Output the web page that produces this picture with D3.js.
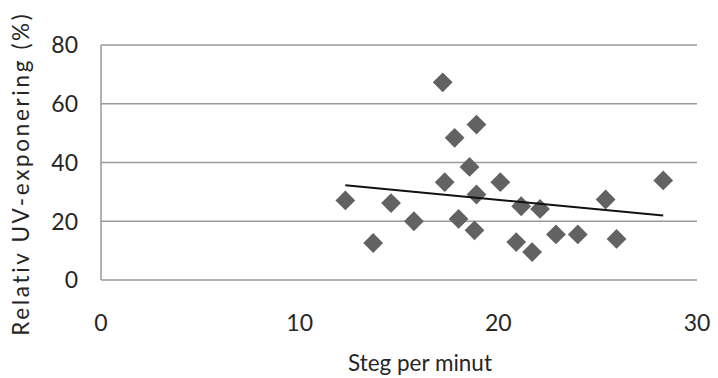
<!DOCTYPE html>
<html>
<head>
<meta charset="utf-8">
<script src="https://cdn.jsdelivr.net/npm/d3@7"></script>
<style>
  body { margin: 0; background: #fff; }
  text { font-family: Lato, "Open Sans", sans-serif; fill: #262626; }
</style>
</head>
<body>
<div id="chart"></div>
<script>
var stepsPerMin = [12.3, 13.7, 14.6, 15.75, 17.2, 17.3, 17.8, 18.0, 18.55, 18.9, 18.9, 18.8, 20.1, 20.9, 21.15, 21.7, 22.1, 22.9, 24.0, 25.4, 25.95, 28.3];
var uvExposure = [27.1, 12.6, 26.2, 20.0, 67.3, 33.3, 48.4, 20.8, 38.5, 52.9, 29.1, 16.9, 33.3, 12.9, 25.1, 9.5, 24.2, 15.5, 15.5, 27.4, 14.0, 33.9];
var xTicks = [0, 10, 20, 30];
var yTicks = [0, 20, 40, 60, 80];

var width = 718, height = 378,
    margin = {left: 101, right: 21, top: 45, bottom: 98};

var svg = d3.select("#chart").append("svg")
    .attr("width", width)
    .attr("height", height);

var x = d3.scaleLinear().domain([0, 30]).range([margin.left, width - margin.right]),
    y = d3.scaleLinear().domain([0, 80]).range([height - margin.bottom, margin.top]);

// gridlines
svg.append("g").selectAll("line")
    .data(yTicks)
  .enter().append("line")
    .attr("x1", x(0)).attr("x2", x(30))
    .attr("y1", function (d) { return y(d); })
    .attr("y2", function (d) { return y(d); })
    .style("stroke", "#999")
    .style("stroke-width", 1.5);

// left axis line
svg.append("line")
    .attr("x1", x(0)).attr("x2", x(0))
    .attr("y1", y(0)).attr("y2", y(80))
    .style("stroke", "#999")
    .style("stroke-width", 1.5);

// y tick labels
svg.append("g").selectAll("text")
    .data(yTicks)
  .enter().append("text")
    .attr("x", 78)
    .attr("y", function (d) { return y(d); })
    .attr("dy", "0.36em")
    .attr("text-anchor", "end")
    .style("font-size", "23px")
    .text(function (d) { return d; });

// x tick labels
svg.append("g").selectAll("text")
    .data(xTicks)
  .enter().append("text")
    .attr("x", function (d) { return x(d); })
    .attr("y", 323)
    .attr("dy", "0.36em")
    .attr("text-anchor", "middle")
    .style("font-size", "23px")
    .text(function (d) { return d; });

// axis titles: font sized to the reference width of the x title,
// y title spread with letter spacing to its reference length
var xTitle = svg.append("text")
    .attr("x", 420).attr("y", 363)
    .attr("dy", "0.36em")
    .attr("text-anchor", "middle")
    .style("font-size", "22px")
    .text("Steg per minut");
var fs = 22 * 144 / xTitle.node().getComputedTextLength();
xTitle.style("font-size", fs + "px");

var yTitle = svg.append("text")
    .attr("transform", "translate(21,175) rotate(-90)")
    .attr("dy", "0.36em")
    .attr("text-anchor", "middle")
    .style("font-size", fs + "px")
    .text("Relativ UV-exponering (%)");
var label = "Relativ UV-exponering (%)",
    extra = (322 - yTitle.node().getComputedTextLength()) / (label.length - 1);
yTitle.style("letter-spacing", extra + "px")
    .attr("dx", extra / 2);

// points
var diamond = d3.symbol().type(d3.symbolDiamond2).size(250);
svg.append("g").selectAll("path")
    .data(stepsPerMin)
  .enter().append("path")
    .attr("transform", function (d, i) { return "translate(" + x(d) + "," + y(uvExposure[i]) + ")"; })
    .attr("d", diamond)
    .style("fill", "#626262");

// linear trend line (least squares)
var mx = d3.mean(stepsPerMin), my = d3.mean(uvExposure),
    sxy = d3.sum(stepsPerMin, function (d, i) { return (d - mx) * (uvExposure[i] - my); }),
    sxx = d3.sum(stepsPerMin, function (d) { return (d - mx) * (d - mx); }),
    slope = sxy / sxx, icpt = my - slope * mx,
    x0 = d3.min(stepsPerMin), x1 = d3.max(stepsPerMin);

svg.append("line")
    .attr("x1", x(x0)).attr("y1", y(icpt + slope * x0))
    .attr("x2", x(x1)).attr("y2", y(icpt + slope * x1))
    .style("stroke", "#111")
    .style("stroke-width", 2);
</script>
</body>
</html>
